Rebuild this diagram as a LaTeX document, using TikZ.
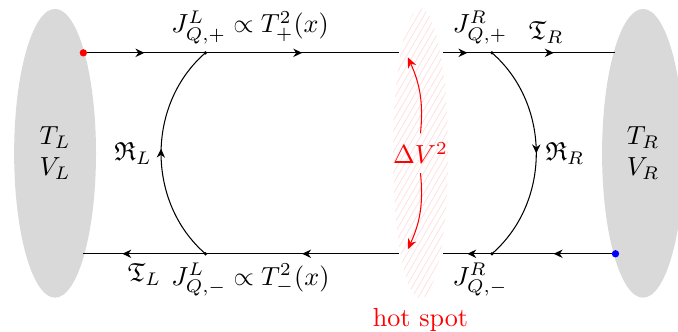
\documentclass[tikz,border=0pt]{standalone}
\usepackage{amsmath,amssymb}
\usepackage{tikz}
\usetikzlibrary{arrows.meta,positioning,calc,shapes.geometric,patterns.meta,decorations.markings}

\tikzset{
  reservoir/.style={ellipse, fill=black!15, minimum width=1.1cm, minimum height=3.88cm, inner sep=0pt, align=center},
  hotspot/.style={ellipse, minimum width=0.74cm, minimum height=3.9cm, inner sep=0pt,
    pattern={Lines[angle=60,distance=2pt,line width=0.3pt]}, pattern color=red!12},
  midarrow/.style={postaction={decorate}, decoration={markings,
    mark=at position #1 with {\arrow{Stealth[length=3.4pt,width=3.2pt]}}}},
}

\begin{document}
\begin{tikzpicture}[>={Stealth[length=4pt,width=3.4pt]}]
\useasboundingbox (0,-2.39) rectangle (9.11,2.06);

% reservoirs
\node[reservoir] (resL) at (0.74,0) {$T_L$\\$V_L$};
\node[reservoir] (resR) at (8.64,0) {$T_R$\\$V_R$};

% hot spot
\node[hotspot] (hot) at (5.65,0) {};
\node[text=red, below=0pt of hot] (hotlab) {hot spot};

% edge points
\coordinate (inL) at (1.12,1.35);
\coordinate (outL) at (1.12,-1.35);
\coordinate (jLp) at (2.76,1.35);
\coordinate (jLm) at (2.76,-1.35);
\coordinate (gLp) at (5.36,1.35);
\coordinate (gLm) at (5.36,-1.35);
\coordinate (gRp) at (5.95,1.35);
\coordinate (gRm) at (5.95,-1.35);
\coordinate (jRp) at (6.61,1.35);
\coordinate (jRm) at (6.61,-1.35);
\coordinate (outR) at (8.27,1.35);
\coordinate (inR) at (8.27,-1.35);

% edge channels
\draw[midarrow=0.5] (inL) -- (jLp);
\draw[midarrow=0.5] (jLp) -- (gLp);
\draw[midarrow=0.5] (gRp) -- (jRp);
\draw[midarrow=0.5] (jRp) -- (outR);
\draw[midarrow=0.5] (inR) -- (jRm);
\draw[midarrow=0.5] (jRm) -- (gRm);
\draw[midarrow=0.5] (gLm) -- (jLm);
\draw[midarrow=0.68] (jLm) -- (outL);

% reflections
\draw[midarrow=0.52] (jLm) to[bend left=49] node[left] (RL) {$\mathfrak{R}_L$} (jLp);
\draw[midarrow=0.5] (jRp) to[bend left=49] node[right] (RR) {$\mathfrak{R}_R$} (jRm);

% dots
\fill[red] (inL) circle (1.4pt);
\fill[blue] (inR) circle (1.4pt);
\foreach \j in {jLp,jLm,jRp,jRm} \fill (\j) circle (0.7pt);

% currents
\node[anchor=south west] (JLp) at ($(jLp)+(-0.58,0)$) {$J^L_{Q,+}\propto T_+^2(x)$};
\node[anchor=north west] (JLm) at ($(jLm)+(-0.58,0)$) {$J^L_{Q,-}\propto T_-^2(x)$};
\node[above] (JRp) at ($(jRp)+(-0.16,0)$) {$J^R_{Q,+}$};
\node[below] (JRm) at ($(jRm)+(-0.16,0)$) {$J^R_{Q,-}$};
\node[below] (TL) at ($(jLm)!0.5!(outL)$) {$\mathfrak{T}_L$};
\node[above] (TR) at ($(jRp)!0.44!(outR)$) {$\mathfrak{T}_R$};

% potential drop
\coordinate (hu) at (5.48,1.29);
\coordinate (hd) at (5.48,-1.29);
\node[text=red] (dv) at (hot) {$\Delta V^2$};
\draw[red,->] (dv.north) to[bend right=15] (hu);
\draw[red,->] (dv.south) to[bend left=15] (hd);
\end{tikzpicture}
\end{document}
